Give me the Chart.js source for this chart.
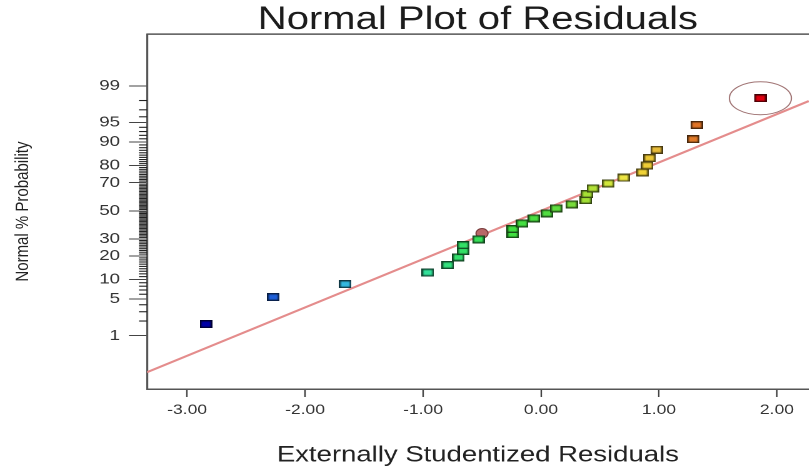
<!DOCTYPE html>
<html><head><meta charset="utf-8">
<script src="https://cdn.jsdelivr.net/npm/chart.js@4/dist/chart.umd.min.js"></script>
<style>
html,body{margin:0;padding:0;background:#fff;overflow:hidden;}
#wrap{width:647px;height:470px;transform:scaleX(1.25);transform-origin:0 0;}
canvas{display:block;}
</style></head><body>
<div id="wrap"><canvas id="c" width="647" height="470" style="width:647px;height:470px"></canvas></div>
<script>
// ---- data ----
const residuals = [-2.84,-2.27,-1.66,-0.96,-0.79,-0.70,-0.66,-0.66,-0.53,-0.24,-0.24,-0.16,-0.06,0.05,0.13,0.26,0.38,0.39,0.44,0.57,0.70,0.86,0.90,0.92,0.98,1.29,1.32,1.86];
const normalPct = [1.74,5.4,8.6,12.5,15.6,19.3,22.7,26.1,29.7,33.2,36.7,40.7,44.4,48.1,51.8,54.7,57.9,62.2,66.2,69.5,73.1,76.3,80.1,83.7,87.2,90.9,94.5,98.2];
const flaggedResidual = [-0.50];
const flaggedPct = [33.7];
const circledIndex = 27;
const fitLineResidual = [-3.34, 2.27];
const fitLinePct = [0.132, 97.95];
const probTickLabels = [1,5,10,20,30,50,70,80,90,95,99];
const xTickValues = [-3,-2,-1,0,1,2];

// ---- helpers ----
function probit(p){
  const a=[-3.969683028665376e+01,2.209460984245205e+02,-2.759285104469687e+02,1.383577518672690e+02,-3.066479806614716e+01,2.506628277459239e+00];
  const b=[-5.447609879822406e+01,1.615858368580409e+02,-1.556989798598866e+02,6.680131188771972e+01,-1.328068155288572e+01];
  const c=[-7.784894002430293e-03,-3.223964580411365e-01,-2.400758277161838e+00,-2.549732539343734e+00,4.374664141464968e+00,2.938163982698783e+00];
  const d=[7.784695709041462e-03,3.224671290700398e-01,2.445134137142996e+00,3.754408661907416e+00];
  const pl=0.02425, ph=1-pl; let q,r;
  if(p<pl){q=Math.sqrt(-2*Math.log(p));return (((((c[0]*q+c[1])*q+c[2])*q+c[3])*q+c[4])*q+c[5])/((((d[0]*q+d[1])*q+d[2])*q+d[3])*q+1);}
  if(p<=ph){q=p-0.5;r=q*q;return (((((a[0]*r+a[1])*r+a[2])*r+a[3])*r+a[4])*r+a[5])*q/(((((b[0]*r+b[1])*r+b[2])*r+b[3])*r+b[4])*r+1);}
  q=Math.sqrt(-2*Math.log(1-p));return -(((((c[0]*q+c[1])*q+c[2])*q+c[3])*q+c[4])*q+c[5])/((((d[0]*q+d[1])*q+d[2])*q+d[3])*q+1);
}
const z = pct => probit(pct/100);

const rampStops = [[-2.84,'#0000a8'],[-2.27,'#1e5fd8'],[-1.66,'#35b8e0'],[-0.96,'#33e09a'],[-0.66,'#33e066'],[-0.24,'#40e040'],[0.05,'#50dc40'],[0.26,'#78dc3a'],[0.40,'#a8e034'],[0.57,'#d2e63c'],[0.70,'#ece442'],[0.88,'#f0d034'],[0.98,'#e8bc3a'],[1.30,'#e07828'],[1.86,'#e00010']];
function hexRgb(h){return [parseInt(h.slice(1,3),16),parseInt(h.slice(3,5),16),parseInt(h.slice(5,7),16)];}
function rampColor(v){
  if(v<=rampStops[0][0]) return hexRgb(rampStops[0][1]);
  for(let i=1;i<rampStops.length;i++){
    if(v<=rampStops[i][0]){
      const [x0,c0]=rampStops[i-1],[x1,c1]=rampStops[i];
      const t=(v-x0)/(x1-x0), A=hexRgb(c0), B=hexRgb(c1);
      return A.map((a,k)=>Math.round(a+(B[k]-a)*t));
    }
  }
  return hexRgb(rampStops[rampStops.length-1][1]);
}
const imgCache = {};
function rectImage(v){
  const rgb = rampColor(v), key = rgb.join(',');
  if(imgCache[key]) return imgCache[key];
  const cv=document.createElement('canvas'); cv.width=10; cv.height=8;
  const g=cv.getContext('2d');
  g.fillStyle='rgb('+rgb.map(x=>Math.round(x*0.3)).join(',')+')'; g.fillRect(0,0,10,8);
  g.fillStyle='rgb('+key+')'; g.fillRect(1.4,1.4,7.2,5.2);
  imgCache[key]=cv; return cv;
}

const FONT = "'Liberation Sans', Arial, sans-serif";

const extras = {
  id:'extras',
  afterDraw(chart){
    const ctx=chart.ctx, a=chart.chartArea, ys=chart.scales.y;
    ctx.save();
    ctx.strokeStyle='#555'; ctx.lineWidth=1.5;
    ctx.beginPath(); ctx.moveTo(a.left,a.top); ctx.lineTo(a.right,a.top); ctx.stroke();
    ctx.strokeStyle='#222'; ctx.lineWidth=1.1;
    for(let p=1;p<=99;p++){
      if(probTickLabels.includes(p)) continue;
      const y=ys.getPixelForValue(z(p));
      ctx.beginPath(); ctx.moveTo(a.left-6.4,y); ctx.lineTo(a.left,y); ctx.stroke();
    }
    const el = chart.getDatasetMeta(1).data[circledIndex];
    if(el){
      ctx.strokeStyle='#a07474'; ctx.lineWidth=1;
      ctx.beginPath(); ctx.ellipse(el.x, el.y, 24.8, 16.5, 0, 0, Math.PI*2); ctx.stroke();
    }
    ctx.restore();
  }
};

new Chart(document.getElementById('c'), {
  type:'scatter',
  data:{ datasets:[
    { label:'fit', data: fitLineResidual.map((x,i)=>({x, y:z(fitLinePct[i])})), showLine:true,
      borderColor:'#e48c8c', borderWidth:2, pointRadius:0, order:2 },
    { label:'residuals', data: residuals.map((x,i)=>({x, y:z(normalPct[i])})),
      pointStyle: ctx => rectImage(ctx.raw ? ctx.raw.x : 0), pointRadius:5, order:1 },
    { label:'flagged', data: flaggedResidual.map((x,i)=>({x, y:z(flaggedPct[i])})),
      pointStyle:'circle', pointRadius:4.8, backgroundColor:'#b86868', borderColor:'#7a3c3c', borderWidth:1, order:1 }
  ]},
  options:{
    responsive:false, maintainAspectRatio:false, devicePixelRatio:2, animation:false, events:[],
    layout:{ autoPadding:false, padding:{left:0,right:0,top:0,bottom:0} },
    plugins:{
      legend:{display:false}, tooltip:{enabled:false},
      title:{ display:true, fullSize:false, text:'Normal Plot of Residuals', color:'#1c1c1c',
        font:{family:FONT, size:32, weight:'normal', lineHeight:0.88}, padding:{top:6,bottom:0} }
    },
    scales:{
      x:{ type:'linear', min:-3.34, max:2.27,
        afterBuildTicks: s => { s.ticks = xTickValues.map(v=>({value:v})); },
        ticks:{ callback: v => Number(v).toFixed(2), font:{family:FONT,size:14}, color:'#333', padding:4.6, autoSkip:false, maxRotation:0 },
        grid:{ display:true, drawOnChartArea:false, drawTicks:true, tickLength:8, tickColor:'#444', tickWidth:1.2 },
        border:{ display:true, color:'#555', width:1.5 },
        title:{ display:true, text:'Externally Studentized Residuals', color:'#222', font:{family:FONT,size:22}, padding:{top:0,bottom:1.2} },
        afterFit: s => { s.height = 81; }
      },
      y:{ type:'linear', min:-3.32, max:3.29,
        afterBuildTicks: s => { s.ticks = probTickLabels.map(p=>({value:z(p)})); },
        ticks:{ callback: (v,i) => String(probTickLabels[i]), font:{family:FONT,size:15}, color:'#333', padding:7.2, autoSkip:false },
        grid:{ display:true, drawOnChartArea:false, drawTicks:true, tickLength:14.4, tickColor:'#444', tickWidth:1 },
        border:{ display:true, color:'#555', width:1.6 },
        title:{ display:true, text:'Normal % Probability', color:'#222', font:{family:FONT,size:15}, padding:{top:9.4,bottom:0} },
        afterFit: s => { s.width = 117.6; }
      }
    }
  },
  plugins:[extras]
});
</script>
</body></html>
